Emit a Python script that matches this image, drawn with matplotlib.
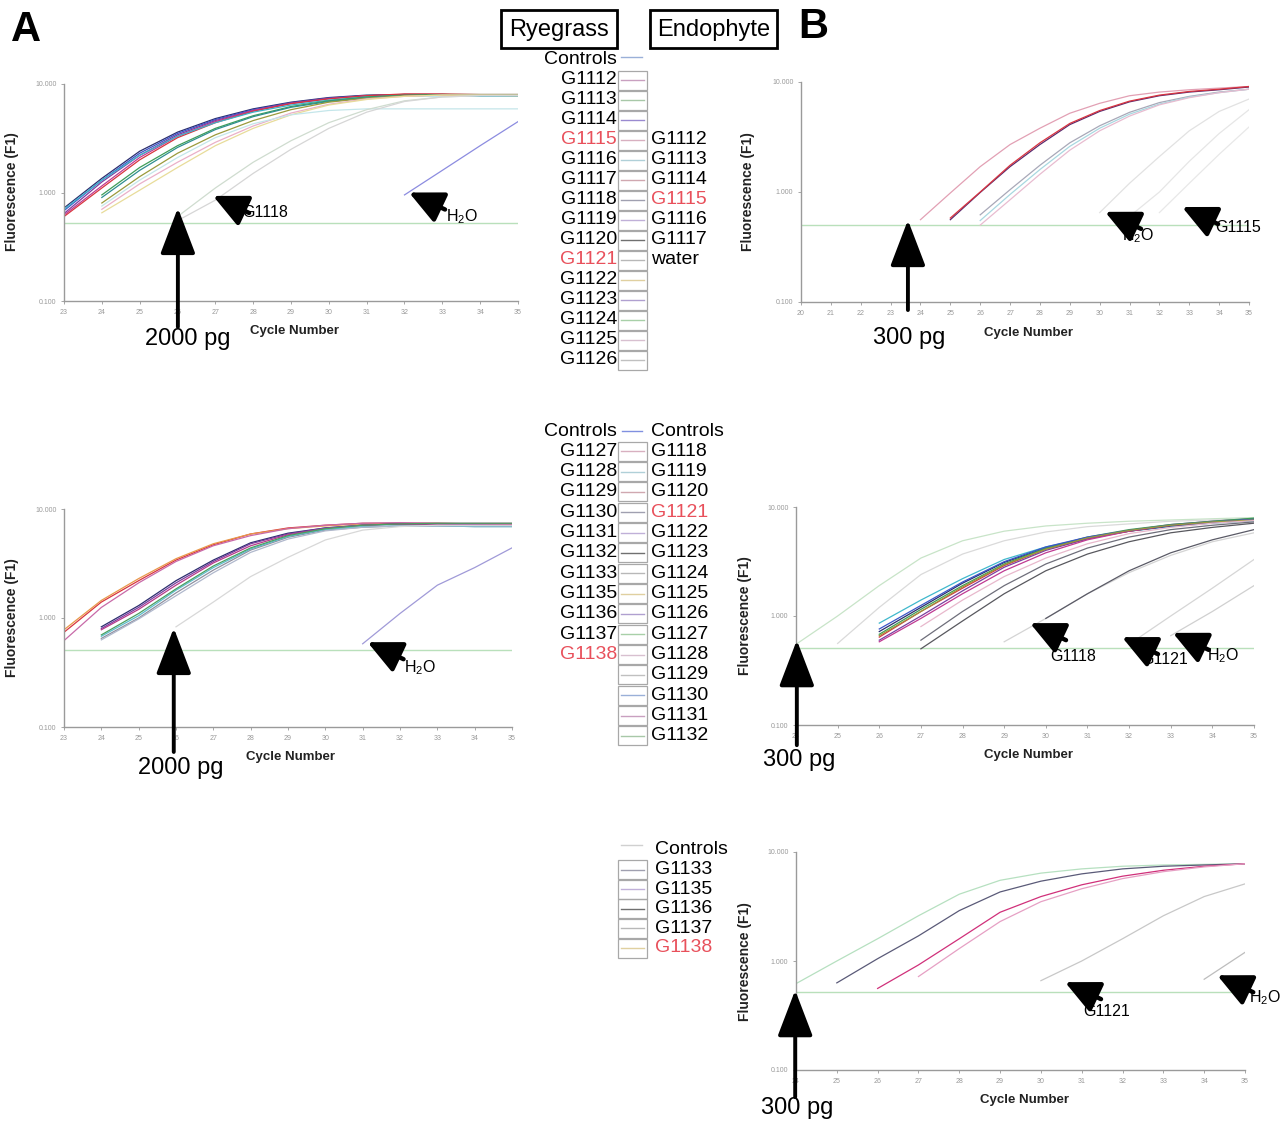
import numpy as np
import matplotlib
matplotlib.use("Agg")
import matplotlib.pyplot as plt
from matplotlib.patches import Rectangle
from matplotlib.ticker import FixedLocator, NullLocator

plt.rcParams['font.family'] = ['Liberation Sans', 'DejaVu Sans']
plt.rcParams['mathtext.default'] = 'regular'

# ---------------------------------------------------------------- data
# Each curve: first cycle, then fluorescence (F1) at consecutive integer cycles.

# Panel A, top (ryegrass assay, G1112-G1126)
a1_start = [23, 23, 23, 23, 23, 23, 24, 24, 24, 24, 24, 24, 26, 26, 32]
a1_values = [
    [0.72, 1.35, 2.4, 3.6, 4.8, 5.9, 6.8, 7.5, 7.9, 8.0, 8.0, 7.9, 7.9],
    [0.68, 1.3, 2.3, 3.5, 4.7, 5.8, 6.7, 7.4, 7.8, 8.0, 8.0, 7.9, 7.8],
    [0.64, 1.25, 2.2, 3.4, 4.6, 5.7, 6.7, 7.4, 7.8, 7.9, 7.9, 7.8, 7.8],
    [0.62, 1.15, 2.1, 3.3, 4.5, 5.7, 6.6, 7.3, 7.8, 8.0, 8.0, 7.9, 7.9],
    [0.60, 1.1, 2.0, 3.2, 4.4, 5.6, 6.6, 7.3, 7.8, 8.1, 8.1, 8.0, 8.0],
    [0.70, 1.3, 2.2, 3.3, 4.4, 5.5, 6.4, 7.1, 7.6, 7.8, 7.8, 7.7, 7.7],
    [0.95, 1.7, 2.7, 3.9, 5.1, 6.2, 7.0, 7.6, 7.9, 8.0, 8.0, 8.0],
    [0.90, 1.6, 2.6, 3.8, 5.0, 6.1, 6.9, 7.5, 7.8, 7.9, 7.9, 7.9],
    [0.80, 1.4, 2.3, 3.4, 4.6, 5.8, 6.8, 7.4, 7.8, 7.9, 7.9, 7.8],
    [0.70, 1.2, 1.9, 2.9, 4.1, 5.4, 6.5, 7.3, 7.7, 7.9, 7.9, 7.9],
    [0.65, 1.05, 1.7, 2.7, 3.9, 5.2, 6.4, 7.2, 7.7, 7.9, 7.9, 7.9],
    [0.75, 1.3, 2.1, 3.2, 4.3, 5.2, 5.7, 5.9, 5.9, 5.9, 5.9, 5.9],
    [0.60, 1.1, 1.9, 3.0, 4.4, 5.8, 7.0, 7.6, 7.8, 7.8],
    [0.55, 0.85, 1.5, 2.5, 3.9, 5.5, 6.9, 7.6, 7.8, 7.8],
    [0.95, 1.6, 2.7, 4.5],
]
a1_threshold = 0.52

# Panel A, middle (ryegrass assay, G1127-G1138)
a2_start = [23, 23, 23, 24, 24, 24, 24, 24, 24, 24, 26, 31]
a2_values = [
    [0.74, 1.4, 2.2, 3.4, 4.7, 5.9, 6.7, 7.1, 7.4, 7.4, 7.4, 7.3, 7.3],
    [0.78, 1.45, 2.3, 3.5, 4.8, 5.9, 6.6, 7.0, 7.3, 7.3, 7.3, 7.2, 7.2],
    [0.62, 1.25, 2.1, 3.3, 4.6, 5.7, 6.6, 7.1, 7.4, 7.5, 7.4, 7.4, 7.4],
    [0.83, 1.3, 2.2, 3.4, 4.9, 6.0, 6.7, 7.1, 7.3, 7.3, 7.2, 7.1],
    [0.80, 1.25, 2.1, 3.3, 4.8, 5.9, 6.7, 7.1, 7.3, 7.3, 7.2, 7.1],
    [0.78, 1.2, 2.0, 3.2, 4.6, 5.8, 6.6, 7.1, 7.3, 7.3, 7.3, 7.2],
    [0.65, 1.0, 1.7, 2.75, 4.2, 5.5, 6.4, 6.8, 7.0, 7.0, 6.9, 6.9],
    [0.68, 1.05, 1.8, 2.9, 4.3, 5.6, 6.5, 6.9, 7.0, 7.0, 6.9, 6.9],
    [0.70, 1.1, 1.85, 3.0, 4.4, 5.7, 6.6, 7.1, 7.3, 7.4, 7.4, 7.4],
    [0.63, 0.98, 1.6, 2.6, 4.0, 5.3, 6.3, 6.8, 7.0, 7.0, 7.0, 7.0],
    [0.83, 1.4, 2.4, 3.6, 5.2, 6.4, 6.9, 7.1, 7.1, 7.1],
    [0.58, 1.1, 2.0, 2.9, 4.4],
]
a2_threshold = 0.51

# Panel B, top (endophyte assay, G1112-G1117 and water)
b1_start = [24, 25, 25, 26, 26, 26, 30, 31, 32]
b1_values = [
    [0.56, 0.98, 1.7, 2.7, 3.8, 5.2, 6.4, 7.5, 8.1, 8.5, 8.8, 9.1],
    [0.56, 0.99, 1.7, 2.7, 4.1, 5.4, 6.6, 7.5, 8.1, 8.5, 9.0],
    [0.58, 1.0, 1.75, 2.8, 4.2, 5.5, 6.7, 7.6, 8.2, 8.6, 9.1],
    [0.62, 1.05, 1.75, 2.8, 4.0, 5.3, 6.5, 7.4, 8.1, 8.6],
    [0.55, 0.95, 1.6, 2.6, 3.8, 5.1, 6.3, 7.3, 8.0, 8.6],
    [0.50, 0.85, 1.45, 2.4, 3.6, 4.9, 6.2, 7.2, 8.0, 8.6],
    [0.65, 1.2, 2.1, 3.6, 5.4, 7.0],
    [0.60, 1.0, 1.9, 3.4, 5.6],
    [0.65, 1.2, 2.2, 3.9],
]
b1_threshold = 0.50

# Panel B, middle (endophyte assay, G1118-G1132)
b2_start = [24, 25, 26, 26, 26, 26, 26, 26, 26, 26, 27, 27, 27, 29, 30, 32, 33]
b2_values = [
    [0.55, 1.0, 1.9, 3.4, 4.9, 6.0, 6.7, 7.1, 7.4, 7.6, 7.8, 8.0],
    [0.56, 1.2, 2.4, 3.7, 4.9, 5.9, 6.6, 7.0, 7.4, 7.6, 7.8],
    [0.86, 1.4, 2.2, 3.3, 4.3, 5.2, 6.0, 6.6, 7.1, 7.5],
    [0.72, 1.2, 2.0, 3.1, 4.2, 5.2, 6.0, 6.7, 7.2, 7.6],
    [0.64, 1.1, 1.8, 2.9, 4.1, 5.1, 6.0, 6.8, 7.3, 7.7],
    [0.60, 1.0, 1.7, 2.8, 4.0, 5.1, 6.1, 6.9, 7.4, 7.8],
    [0.58, 0.95, 1.6, 2.6, 3.8, 5.0, 6.0, 6.8, 7.3, 7.7],
    [0.68, 1.15, 1.9, 3.0, 4.2, 5.3, 6.2, 6.9, 7.4, 7.9],
    [0.76, 1.25, 2.05, 3.15, 4.3, 5.3, 6.1, 6.8, 7.3, 7.7],
    [0.66, 1.1, 1.85, 2.95, 4.1, 5.2, 6.1, 6.8, 7.3, 7.6],
    [0.80, 1.4, 2.3, 3.4, 4.6, 5.7, 6.5, 7.1, 7.5],
    [0.60, 1.1, 1.9, 3.0, 4.2, 5.3, 6.2, 6.8, 7.3],
    [0.50, 0.9, 1.6, 2.6, 3.7, 4.8, 5.8, 6.5, 7.1],
    [0.58, 0.95, 1.6, 2.5, 3.6, 4.8, 5.8],
    [0.95, 1.6, 2.6, 3.8, 5.0, 6.2],
    [0.55, 1.0, 1.8, 3.3],
    [0.66, 1.1, 1.9],
]
b2_threshold = 0.51

# Panel B, bottom (endophyte assay, G1133-G1138)
b3_start = [24, 25, 26, 27, 30, 34]
b3_values = [
    [0.62, 1.0, 1.6, 2.6, 4.1, 5.5, 6.4, 7.0, 7.4, 7.6, 7.7, 7.8],
    [0.63, 1.05, 1.7, 2.9, 4.3, 5.4, 6.3, 7.0, 7.4, 7.6, 7.8],
    [0.56, 0.92, 1.6, 2.8, 3.9, 5.0, 6.0, 6.8, 7.4, 7.8],
    [0.72, 1.3, 2.3, 3.5, 4.6, 5.7, 6.6, 7.3, 7.8],
    [0.66, 1.0, 1.6, 2.6, 3.9, 5.1],
    [0.68, 1.2],
]
b3_threshold = 0.52

y_ticks = [0.1, 1, 10]
y_tick_labels = ['0.100', '1.000', '10.000']

# Legend entries
rye_top = ['Controls', 'G1112', 'G1113', 'G1114', 'G1115', 'G1116', 'G1117',
           'G1118', 'G1119', 'G1120', 'G1121', 'G1122', 'G1123', 'G1124',
           'G1125', 'G1126']
endo_top = ['G1112', 'G1113', 'G1114', 'G1115', 'G1116', 'G1117', 'water']
rye_mid = ['Controls', 'G1127', 'G1128', 'G1129', 'G1130', 'G1131', 'G1132',
           'G1133', 'G1135', 'G1136', 'G1137', 'G1138']
endo_mid = ['Controls', 'G1118', 'G1119', 'G1120', 'G1121', 'G1122', 'G1123',
            'G1124', 'G1125', 'G1126', 'G1127', 'G1128', 'G1129', 'G1130',
            'G1131', 'G1132']
endo_bot = ['Controls', 'G1133', 'G1135', 'G1136', 'G1137', 'G1138']
highlighted = ['G1115', 'G1121', 'G1138']

# ---------------------------------------------------------------- styles
a1_colors = ['#2b2d6e', '#3b55c8', '#7a3fa0', '#c03a92', '#d8343f', '#3fb2c9',
             '#3e9d58', '#2f8f8f', '#9a9a3c', '#eab0c8', '#e8dc9a', '#c4e6ea',
             '#cfdccf', '#d6d6d6', '#8c8ce0']
a2_colors = ['#d8343f', '#e8984a', '#c86aa8', '#2b2d6e', '#7a3fa0', '#b83a8a',
             '#8f8f9f', '#5cbccc', '#4aa060', '#b0b8cc', '#d8d8d8', '#a09ad8']
b1_colors = ['#e2a0b4', '#5a2a6e', '#d8343f', '#a8a8b8', '#a8d8e0', '#e8bcd0',
             '#e2e2e2', '#e6e6e6', '#e8e8e8']
b2_colors = ['#c8e4c8', '#dadada', '#3fb8cc', '#2b2d6e', '#d8343f', '#7a3fa0',
             '#c03a92', '#3e9d58', '#3b55c8', '#9a9a3c', '#e8b8cc', '#6e6e7a',
             '#58585e', '#d4d4d4', '#5a5a66', '#d6d6d6', '#d0d0d0']
b3_colors = ['#b6e0c0', '#5a5a78', '#d0307a', '#e6a0c4', '#c8c8c8', '#bdbdbd']

swatch_colors = ['#9ab0d8', '#c9a0c0', '#a8c8a8', '#9a8ad0', '#d8b0c0', '#b0d0d8',
                 '#d0a8b0', '#a0a0b0', '#c0b0d8', '#707070', '#b8b8b8', '#e0d0a0',
                 '#b0a0d0', '#a8d0a8', '#d8c0d0', '#c0c0c0']

W, H = 1285, 1126
fig = plt.figure(figsize=(W / 100, H / 100), dpi=100)
fig.patch.set_facecolor('white')


def px_axes(left, top, right, bottom, **kw):
    return fig.add_axes([left / W, 1 - bottom / H, (right - left) / W,
                         (bottom - top) / H], **kw)


def panel(box, xmin, xmax, starts, values, colors, threshold):
    ax = px_axes(*box)
    ax.set_yscale('log')
    ax.set_ylim(0.1, 10)
    ax.set_xlim(xmin, xmax)
    ax.axhline(threshold, color='#b9e0bb', lw=1.0, zorder=1)
    for s, v, c in zip(starts, values, colors):
        cyc = s + np.arange(len(v))
        ax.plot(cyc, v, color=c, lw=0.9, zorder=2)
    for side in ('top', 'right'):
        ax.spines[side].set_visible(False)
    for side in ('left', 'bottom'):
        ax.spines[side].set_color('#9a9a9a')
        ax.spines[side].set_linewidth(1.0)
    ax.yaxis.set_major_locator(FixedLocator(y_ticks))
    ax.yaxis.set_minor_locator(NullLocator())
    ax.set_yticklabels(y_tick_labels)
    xt = list(range(xmin, xmax + 1))
    ax.set_xticks(xt)
    ax.set_xticklabels([str(t) for t in xt])
    ax.tick_params(labelsize=5, colors='#999999', length=2.5, width=0.6, pad=3)
    ax.patch.set_alpha(0)
    return ax


def pointer(ax, x, y, label, ldx, ldy):
    # short stubby arrow pointing up-left at (x, y)
    ax.annotate('', xy=(x, y), xycoords='data', xytext=(36, -17),
                textcoords='offset pixels', annotation_clip=False,
                arrowprops=dict(arrowstyle='-|>,head_length=0.8,head_width=0.38',
                                mutation_scale=26, lw=3.2, color='black',
                                shrinkA=0, shrinkB=0))
    ax.annotate(label, xy=(x, y), xycoords='data', xytext=(ldx, ldy),
                textcoords='offset pixels', ha='left', va='center',
                fontsize=11.5, annotation_clip=False)


def amount_arrow(ax, x, y, drop):
    ax.annotate('', xy=(x, y), xycoords='data', xytext=(0, -drop),
                textcoords='offset pixels', annotation_clip=False,
                arrowprops=dict(arrowstyle='-|>,head_length=1.1,head_width=0.42',
                                mutation_scale=26, lw=2.8, color='black',
                                shrinkA=0, shrinkB=0))


axA1 = panel((64, 84, 518, 301), 23, 35, a1_start, a1_values, a1_colors, a1_threshold)
axA2 = panel((64, 509, 512, 727), 23, 35, a2_start, a2_values, a2_colors, a2_threshold)
axB1 = panel((801, 82, 1249, 302), 20, 35, b1_start, b1_values, b1_colors, b1_threshold)
axB2 = panel((796, 507, 1254, 725), 24, 35, b2_start, b2_values, b2_colors, b2_threshold)
axB3 = panel((796, 852, 1245, 1070), 24, 35, b3_start, b3_values, b3_colors, b3_threshold)

h2o = 'H$_2$O'
pointer(axA1, 26.94, 0.93, 'G1118', 29, -17)
pointer(axA1, 32.12, 1.0, h2o, 37, -24)
amount_arrow(axA1, 26.01, 0.72, 119)

pointer(axA2, 31.13, 0.60, h2o, 36, -25)
amount_arrow(axA2, 25.94, 0.81, 124)

pointer(axB1, 30.18, 0.66, h2o, 17, -24)
pointer(axB1, 32.76, 0.73, 'G1115', 33, -20)
amount_arrow(axB1, 23.58, 0.556, 90)

pointer(axB2, 29.62, 0.86, 'G1118', 20, -33)
pointer(axB2, 31.83, 0.64, 'G1121', 19, -22)
pointer(axB2, 33.05, 0.70, h2o, 34, -23)
amount_arrow(axB2, 24.02, 0.60, 105)

pointer(axB3, 30.59, 0.64, 'G1121', 18, -29)
pointer(axB3, 34.32, 0.74, h2o, 32, -22)
amount_arrow(axB3, 23.98, 0.54, 107)

# ---------------------------------------------------------------- overlay text
ov = fig.add_axes([0, 0, 1, 1], zorder=10)
ov.set_xlim(0, W)
ov.set_ylim(H, 0)
ov.axis('off')
ov.patch.set_alpha(0)

ov.text(26, 30, 'A', fontsize=30, fontweight='bold', ha='center', va='center')
ov.text(813, 27, 'B', fontsize=30, fontweight='bold', ha='center', va='center')

for (x, y) in [(12, 192), (12, 618), (748, 192), (745, 616), (745, 962)]:
    ov.text(x, y, 'Fluorescence (F1)', rotation=90, fontsize=10, fontweight='bold',
            ha='center', va='center', color='#222222')
for (x, y) in [(295, 331), (291, 757), (1028, 333), (1029, 755), (1024, 1100)]:
    ov.text(x, y, 'Cycle Number', fontsize=9.5, fontweight='bold',
            ha='center', va='center', color='#222222')
for (x, y, s) in [(188, 339, '2000 pg'), (181, 768, '2000 pg'),
                  (909, 338, '300 pg'), (799, 760, '300 pg'), (797, 1108, '300 pg')]:
    ov.text(x, y, s, fontsize=17, ha='center', va='center')

# Column headers
for (x0, x1, label) in [(501, 617, 'Ryegrass'), (650, 777, 'Endophyte')]:
    ov.add_patch(Rectangle((x0, 10), x1 - x0, 38, fill=False, ec='black', lw=2))
    ov.text((x0 + x1) / 2, 30, label, fontsize=17, ha='center', va='center')


def label_color(name):
    return '#e8505b' if name in highlighted else 'black'


def swatch(x0, y, color, boxed=True):
    if boxed:
        ov.add_patch(Rectangle((x0, y - 9.5), 29, 19, fill=False,
                               ec='#a8a8a8', lw=0.9))
        ov.plot([x0 + 3, x0 + 26], [y, y], color=color, lw=1.0)
    else:
        ov.plot([x0 + 3, x0 + 24], [y - 3, y - 3], color=color, lw=1.0)


def column(names, y0, step, x, ha, rows=None):
    rows = range(len(names)) if rows is None else rows
    for name, r in zip(names, rows):
        ov.text(x, y0 + r * step, name, fontsize=14, ha=ha, va='center',
                color=label_color(name))


# Legend for the top row
step1 = 20.0
column(rye_top, 60, step1, 617, 'right')
column(endo_top, 60, step1, 651, 'left', rows=range(4, 4 + len(endo_top)))
swatch(618, 60, swatch_colors[0], boxed=False)
for i in range(1, len(rye_top)):
    swatch(618, 60 + i * step1, swatch_colors[i % len(swatch_colors)])

# Legend for the middle row
step2 = 20.33
column(rye_mid, 431, step2, 617, 'right')
column(endo_mid, 431, step2, 651, 'left')
ov.plot([622, 642], [431, 431], color='#8090e0', lw=1.0)
for i in range(1, len(endo_mid)):
    swatch(618, 431 + i * step2, swatch_colors[(i + 3) % len(swatch_colors)])

# Legend for the bottom row
step3 = 19.6
column(endo_bot, 850, step3, 655, 'left')
swatch(618, 848, '#d0d0d0', boxed=False)
for i in range(1, len(endo_bot)):
    swatch(618, 850 + i * step3, swatch_colors[(i + 6) % len(swatch_colors)])

fig.savefig('out.png', dpi=100, facecolor='white')
